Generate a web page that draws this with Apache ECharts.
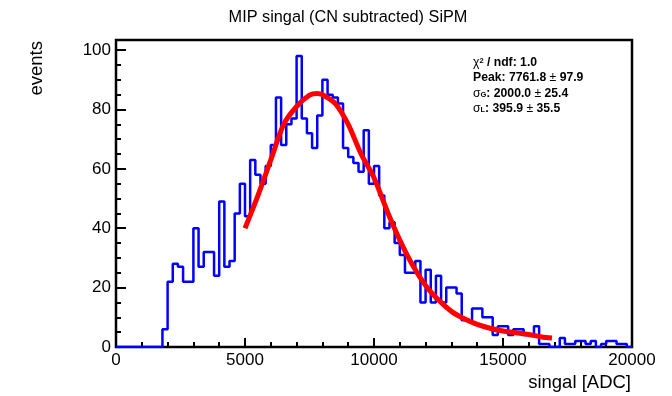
<!DOCTYPE html>
<html><head><meta charset="utf-8">
<script src="https://cdn.jsdelivr.net/npm/echarts@6/dist/echarts.min.js"></script>
<style>html,body{margin:0;padding:0;background:#fff}#c{width:672px;height:396px}</style>
</head><body><div id="c"></div>
<script>
// ---- data ----
const binStart = 0;
const binWidth = 200;
const counts = [
  0, 0, 0, 0, 0, 0, 0, 0, 0, 6,
  22, 28, 27, 22, 22, 40, 27, 32, 32, 24,
  49, 27, 29, 45, 55, 44, 63, 58, 55, 61,
  68, 84, 68, 75, 77, 98, 77, 72, 67, 78,
  90, 85, 84, 82, 67, 64, 62, 59, 73, 55,
  61, 51, 40, 42, 35, 31, 25, 25, 29, 15,
  26, 15, 24, 15, 20, 20, 18, 9, 9, 13,
  13, 10, 10, 4, 7, 7, 4, 6, 6, 4,
  4, 7, 1, 1, 0, 0, 3, 1, 1, 2,
  2, 1, 2, 0, 1, 2, 2, 1, 1, 0
];
const fitX = [5000, 5500, 6000, 6500, 7000, 7500, 7800, 8000, 8500, 9000, 9500, 10000, 10500, 11000, 11500, 12000, 12500, 13000, 13500, 14000, 14500, 15000, 15500, 16000, 16500, 16900];
const fitY = [40, 51, 63, 75, 81, 84.8, 85.4, 85, 82, 75, 65, 57, 46, 36, 27.5, 20.7, 15.8, 12, 9.5, 7.6, 6.3, 5.4, 4.8, 4.2, 3.4, 3.0];
const xMajorTicks = [0, 5000, 10000, 15000, 20000];
const xMinorTicks = [1000, 2000, 3000, 4000, 6000, 7000, 8000, 9000, 11000, 12000, 13000, 14000, 16000, 17000, 18000, 19000];
const yMajorTicks = [0, 20, 40, 60, 80, 100];
const yMinorTicks = [5, 10, 15, 25, 30, 35, 45, 50, 55, 65, 70, 75, 85, 90, 95];
const titleText = 'MIP singal (CN subtracted) SiPM';
const xTitle = 'singal [ADC]';
const yTitle = 'events';

// ---- build ----
const histPts = [];
counts.forEach((v, k) => {
  const lo = binStart + k * binWidth;
  histPts.push([lo, v], [lo + binWidth, v]);
});
const fitPts = fitX.map((x, i) => [x, fitY[i]]);

const FONT = 'Liberation Sans, Arial, Helvetica, sans-serif';
const chart = echarts.init(document.getElementById('c'), null, {renderer: 'canvas'});
const axisBaseX = {type: 'value', min: 0, max: 20000, gridIndex: 0, position: 'bottom',
  axisLine: {show: false}, splitLine: {show: false}};
const axisBaseY = {type: 'value', min: 0, max: 103.4, gridIndex: 0, position: 'left',
  axisLine: {show: false}, splitLine: {show: false}};
const plain = v => String(v);
chart.setOption({
  animation: false,
  backgroundColor: '#fff',
  grid: {left: 116, right: 40, top: 40, bottom: 49, show: true, borderColor: '#000', borderWidth: 2.5, backgroundColor: 'transparent'},
  xAxis: [
    Object.assign({}, axisBaseX, {
      axisTick: {show: true, inside: true, length: 9, customValues: xMajorTicks, lineStyle: {color: '#000', width: 2}},
      axisLabel: {show: true, customValues: xMajorTicks, formatter: plain, margin: 5, color: '#000', fontSize: 17, fontFamily: FONT}
    }),
    Object.assign({}, axisBaseX, {
      axisTick: {show: true, inside: true, length: 5, customValues: xMinorTicks, lineStyle: {color: '#000', width: 2}},
      axisLabel: {show: false}
    })
  ],
  yAxis: [
    Object.assign({}, axisBaseY, {
      axisTick: {show: true, inside: true, length: 10, customValues: yMajorTicks, lineStyle: {color: '#000', width: 2}},
      axisLabel: {show: true, customValues: yMajorTicks, formatter: plain, margin: 5, color: '#000', fontSize: 17, fontFamily: FONT}
    }),
    Object.assign({}, axisBaseY, {
      axisTick: {show: true, inside: true, length: 5, customValues: yMinorTicks, lineStyle: {color: '#000', width: 2}},
      axisLabel: {show: false}
    })
  ],
  series: [
    {type: 'line', xAxisIndex: 0, yAxisIndex: 0, data: histPts, showSymbol: false, symbol: 'none',
      lineStyle: {color: '#0000ff', width: 2.5}, z: 3, silent: true},
    {type: 'line', xAxisIndex: 0, yAxisIndex: 0, data: fitPts, showSymbol: false, symbol: 'none', smooth: 0.3,
      lineStyle: {color: '#ff0000', width: 5, cap: 'butt'}, z: 4, silent: true}
  ],
  graphic: [
    {type: 'text', x: 348, y: 18, style: {text: titleText, fill: '#000', font: '16.3px ' + FONT, textAlign: 'center', textVerticalAlign: 'middle'}},
    {type: 'text', x: 631, y: 383, style: {text: xTitle, fill: '#000', font: '18.5px ' + FONT, textAlign: 'right', textVerticalAlign: 'middle'}},
    {type: 'text', x: 37, y: 41, rotation: Math.PI / 2, style: {text: yTitle, fill: '#000', font: '18.5px ' + FONT, textAlign: 'right', textVerticalAlign: 'middle'}},
    {type: 'text', x: 473, y: 55, z: 10, style: {
      text: '{n|χ}{sup|2}{b| / ndf: 1.0}\n{b|Peak: 7761.8 }{n|±}{b| 97.9}\n{n|σ}{sub|G}{b|: 2000.0 }{n|±}{b| 25.4}\n{n|σ}{sub|L}{b|: 395.9 }{n|±}{b| 35.5}',
      fill: '#000',
      rich: {
        b: {fontFamily: FONT, fontSize: 12.2, fontWeight: 'bold', lineHeight: 15.3, fill: '#000'},
        n: {fontFamily: FONT, fontSize: 12.2, lineHeight: 15.3, fill: '#000'},
        sup: {fontFamily: FONT, fontSize: 7.5, fontWeight: 'bold', lineHeight: 15.3, verticalAlign: 'top', padding: [2, 0, 0, 0], fill: '#000'},
        sub: {fontFamily: FONT, fontSize: 7.5, fontWeight: 'bold', lineHeight: 15.3, verticalAlign: 'bottom', padding: [0, 0, 2, 0], fill: '#000'}
      }
    }}
  ]
});
</script>
</body></html>
